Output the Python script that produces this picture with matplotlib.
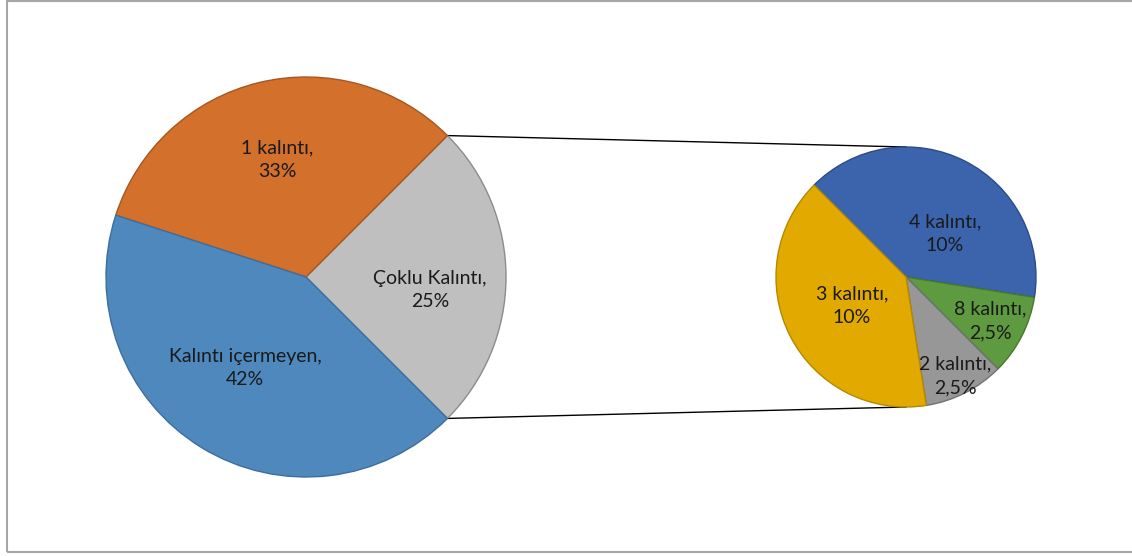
import numpy as np
import matplotlib.pyplot as plt
from matplotlib.patches import Rectangle

plt.rcParams['font.family'] = ['Lato', 'DejaVu Sans']

# main pie
main_labels = ['Çoklu Kalıntı', '1 kalıntı', 'Kalıntı içermeyen']
main_values = [25, 32.5, 42.5]
main_pct = ['25%', '33%', '42%']
main_colors = ['#BFBFBF', '#D2702C', '#4F88BD']
main_edges = ['#8C8C8C', '#A8561F', '#3D6E9E']

# second pie (split of "Çoklu Kalıntı")
sub_labels = ['4 kalıntı', '8 kalıntı', '2 kalıntı', '3 kalıntı']
sub_values = [10, 2.5, 2.5, 10]
sub_pct = ['10%', '2,5%', '2,5%', '10%']
sub_colors = ['#3C64AD', '#5E9A3F', '#979797', '#E2AA00']
sub_edges = ['#2C4C88', '#47782E', '#727272', '#B58800']

W, H = 1132, 556
fig = plt.figure(figsize=(W / 100, H / 100), dpi=100)
ax = fig.add_axes([0, 0, 1, 1])

c1, r1 = (306, 279), 200
c2, r2 = (906, 279), 130

w1, _ = ax.pie(main_values, colors=main_colors, startangle=-45, counterclock=True,
               center=c1, radius=r1, frame=True,
               wedgeprops=dict(linewidth=1))
for w, e in zip(w1, main_edges):
    w.set_edgecolor(e)

w2, _ = ax.pie(sub_values, colors=sub_colors, startangle=135, counterclock=False,
               center=c2, radius=r2, frame=True,
               wedgeprops=dict(linewidth=1))
for w, e in zip(w2, sub_edges):
    w.set_edgecolor(e)

ax.set_xlim(0, W)
ax.set_ylim(0, H)
ax.set_aspect('equal')
ax.axis('off')

# connector lines from the split slice to the second pie
g = w1[0]
for ang, yend in [(g.theta2, c2[1] + r2), (g.theta1, c2[1] - r2)]:
    x0 = c1[0] + r1 * np.cos(np.radians(ang))
    y0 = c1[1] + r1 * np.sin(np.radians(ang))
    ax.plot([x0, c2[0]], [y0, yend], color='black', lw=1, zorder=0)

fs = 14
txt = '#1a1a1a'
main_pos = [(430, 266), (277, 396), (245, 188)]
for (x, y), lab, p in zip(main_pos, main_labels, main_pct):
    ax.text(x, y, lab + ',\n' + p, ha='center', va='center', fontsize=fs,
            color=txt, linespacing=1.45)

sub_pos = [(945, 322), (990, 235), (955, 180), (852, 250)]
for (x, y), lab, p in zip(sub_pos, sub_labels, sub_pct):
    ax.text(x, y, lab + ',\n' + p, ha='center', va='center', fontsize=fs,
            color=txt, linespacing=1.45)

# chart frame
fig.patches.append(Rectangle((7 / W, 4 / H), 1.1, 1 - 5 / H, transform=fig.transFigure,
                             fill=False, edgecolor='#A6A6A6', lw=1.5))

fig.savefig('out.png', dpi=100, facecolor='white')
